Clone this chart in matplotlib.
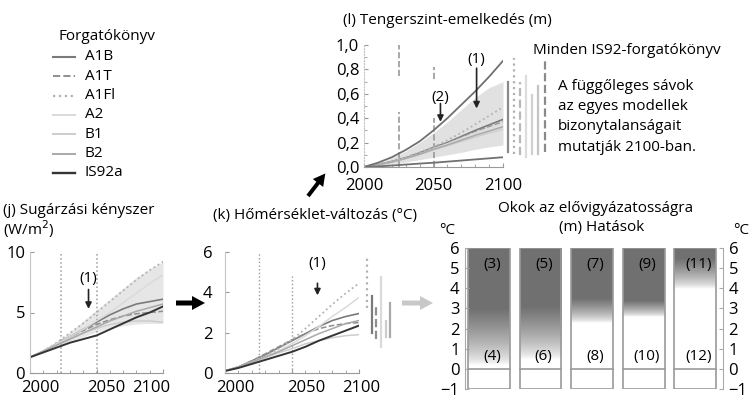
import numpy as np
import matplotlib.pyplot as plt
from matplotlib.patches import FancyArrow, Rectangle
from matplotlib.lines import Line2D
from matplotlib.transforms import ScaledTranslation

plt.rcParams['font.family'] = ['Open Sans', 'DejaVu Sans']

W, H = 755, 401

years = [2000, 2010, 2020, 2030, 2040, 2050, 2060, 2070, 2080, 2090, 2100]

scenarios = ['A1B', 'A1T', 'A1FI', 'A2', 'B1', 'B2', 'IS92a']
legend_names = ['A1B', 'A1T', 'A1Fl', 'A2', 'B1', 'B2', 'IS92a']
line_colors = ['#7a7a7a', '#8e8e8e', '#b2b2b2', '#dadada', '#cdcdcd', '#a9a9a9', '#353535']
line_styles = ['-', '--', ':', '-', '-', '-', '-']
line_widths = [1.2, 1.1, 1.3, 1.1, 1.1, 1.1, 1.4]

# (j) radiative forcing, W/m2
forcing = {
    'A1B':   [1.3, 1.8, 2.4, 3.0, 3.6, 4.2, 4.8, 5.3, 5.7, 5.9, 6.1],
    'A1T':   [1.3, 1.8, 2.4, 3.0, 3.5, 4.0, 4.4, 4.7, 4.9, 5.0, 5.1],
    'A1FI':  [1.3, 1.8, 2.5, 3.3, 4.1, 5.0, 5.9, 6.8, 7.7, 8.5, 9.2],
    'A2':    [1.3, 1.8, 2.4, 3.0, 3.6, 4.3, 5.0, 5.8, 6.6, 7.4, 8.1],
    'B1':    [1.3, 1.8, 2.3, 2.8, 3.3, 3.7, 4.0, 4.2, 4.3, 4.3, 4.2],
    'B2':    [1.3, 1.8, 2.3, 2.8, 3.3, 3.8, 4.3, 4.7, 5.1, 5.4, 5.7],
    'IS92a': [1.3, 1.7, 2.1, 2.5, 2.8, 3.1, 3.6, 4.1, 4.6, 5.0, 5.5],
}
forcing_low = [1.3, 1.75, 2.2, 2.6, 3.0, 3.4, 3.7, 3.9, 4.05, 4.1, 4.1]
forcing_high = [1.3, 1.85, 2.6, 3.4, 4.3, 5.2, 6.1, 7.0, 7.9, 8.6, 9.2]

# (k) global mean temperature change, deg C
temperature = {
    'A1B':   [0.1, 0.3, 0.6, 0.9, 1.25, 1.6, 1.95, 2.3, 2.6, 2.8, 2.95],
    'A1T':   [0.1, 0.3, 0.6, 0.95, 1.3, 1.65, 1.95, 2.2, 2.35, 2.45, 2.5],
    'A1FI':  [0.1, 0.3, 0.55, 0.85, 1.2, 1.65, 2.2, 2.8, 3.4, 3.95, 4.45],
    'A2':    [0.1, 0.3, 0.55, 0.8, 1.1, 1.45, 1.85, 2.3, 2.8, 3.25, 3.75],
    'B1':    [0.1, 0.3, 0.5, 0.75, 1.0, 1.2, 1.45, 1.6, 1.75, 1.85, 1.9],
    'B2':    [0.1, 0.3, 0.55, 0.8, 1.05, 1.35, 1.65, 1.95, 2.2, 2.45, 2.6],
    'IS92a': [0.1, 0.25, 0.45, 0.65, 0.85, 1.05, 1.3, 1.6, 1.85, 2.1, 2.35],
}
temp_bar_scen = ['A1FI', 'A1B', 'A1T', 'A2', 'B1', 'B2']
temp_bar_low = [3.2, 2.0, 1.7, 1.3, 1.8, 1.8]
temp_bar_high = [5.8, 3.8, 3.3, 4.75, 2.6, 3.45]

# (l) sea level rise, m
sea_level = {
    'A1B':  [0, 0.02, 0.045, 0.075, 0.115, 0.16, 0.2, 0.25, 0.3, 0.345, 0.39],
    'A1T':  [0, 0.02, 0.045, 0.075, 0.115, 0.16, 0.2, 0.245, 0.29, 0.33, 0.37],
    'A1FI': [0, 0.02, 0.045, 0.08, 0.12, 0.165, 0.22, 0.28, 0.35, 0.42, 0.49],
    'A2':   [0, 0.02, 0.04, 0.07, 0.105, 0.15, 0.19, 0.235, 0.28, 0.32, 0.36],
    'B1':   [0, 0.02, 0.04, 0.07, 0.1, 0.14, 0.175, 0.21, 0.245, 0.28, 0.31],
    'B2':   [0, 0.02, 0.04, 0.07, 0.105, 0.145, 0.18, 0.22, 0.26, 0.295, 0.33],
}
sea_is92_high = [0, 0.035, 0.08, 0.14, 0.21, 0.30, 0.40, 0.51, 0.62, 0.74, 0.87]
sea_is92_low = [0, 0.005, 0.012, 0.02, 0.028, 0.035, 0.044, 0.053, 0.062, 0.071, 0.08]
sea_band_low = [0, 0.01, 0.025, 0.04, 0.06, 0.08, 0.1, 0.12, 0.145, 0.165, 0.18]
sea_band_high = [0, 0.03, 0.075, 0.13, 0.2, 0.28, 0.37, 0.47, 0.57, 0.65, 0.70]
sea_bar_low = [0.12, 0.11, 0.10, 0.08, 0.11, 0.11, 0.12]
sea_bar_high = [0.70, 0.89, 0.70, 0.75, 0.59, 0.66, 0.89]

# (m) reasons for concern
concern_top = ['(3)', '(5)', '(7)', '(9)', '(11)']
concern_bottom = ['(4)', '(6)', '(8)', '(10)', '(12)']
dark_from = [3.0, 3.1, 3.5, 3.4, 5.5]
white_below = [0.2, 0.5, 2.3, 2.6, 4.0]

fig = plt.figure(figsize=(W / 100, H / 100), dpi=100)


def px_axes(left, top, right, bottom):
    return fig.add_axes([left / W, 1 - bottom / H, (right - left) / W, (bottom - top) / H])


def style_time_axis(ax, label_shift):
    ax.set_xlim(2000, 2100)
    ax.patch.set_visible(False)
    for s in ['top', 'right']:
        ax.spines[s].set_visible(False)
    ax.spines['left'].set_color('#c4c4c4')
    ax.spines['bottom'].set_color('#999999')
    ax.set_xticks([2000, 2050, 2100])
    ax.set_xticks(range(2000, 2101, 10), minor=True)
    ax.tick_params(which='both', direction='in', color='#999999', labelsize=12)
    ax.tick_params(axis='x', pad=5)
    ax.tick_params(which='major', length=3)
    ax.tick_params(which='minor', length=2)
    # year labels sit a little off their ticks
    for tick, dx in zip(ax.xaxis.get_major_ticks(), label_shift):
        lab = tick.label1
        lab.set_transform(lab.get_transform() + ScaledTranslation(dx / 100, 0, fig.dpi_scale_trans))


def draw_scenarios(ax, data):
    for name, col, ls, lw in zip(scenarios, line_colors, line_styles, line_widths):
        if name in data:
            ax.plot(years, data[name], color=col, ls=ls, lw=lw)


def drop_arrow(ax, label, x, y_text, y_from, y_to):
    ax.text(x, y_text, label, ha='center', va='center', fontsize=11)
    ax.annotate('', xy=(x, y_to), xytext=(x, y_from),
                arrowprops=dict(arrowstyle='-|>', color='#222222', lw=1.2,
                                mutation_scale=9, shrinkA=0, shrinkB=0))


# ---- (j) radiative forcing
ax_j = px_axes(30, 252, 163, 373)
style_time_axis(ax_j, [10, 10, -12])
ax_j.set_ylim(0, 10)
ax_j.set_yticks([0, 5, 10])
ax_j.fill_between(years, forcing_low, forcing_high, color='#e6e6e6', lw=0)
for yr in [2023, 2050]:
    ax_j.axvline(yr, color='#9a9a9a', ls=':', lw=1.1)
draw_scenarios(ax_j, forcing)
drop_arrow(ax_j, '(1)', 2044, 7.8, 6.9, 5.3)

# ---- (k) temperature change
ax_k = px_axes(225, 252, 359, 373)
style_time_axis(ax_k, [10, 14, 2])
ax_k.set_ylim(0, 6)
ax_k.set_yticks([0, 2, 4, 6])
ax_k.tick_params(axis='y', pad=9)
ax_k.axvline(2025, color='#999999', ls=':', lw=1.0)
ax_k.axvline(2050, ymax=4.8 / 6, color='#999999', ls=':', lw=1.0)
draw_scenarios(ax_k, temperature)
bar_x = 2106
for name, lo, hi in zip(temp_bar_scen, temp_bar_low, temp_bar_high):
    i = scenarios.index(name)
    ax_k.plot([bar_x, bar_x], [lo, hi], color=line_colors[i], ls=line_styles[i],
              lw=1.6, clip_on=False)
    bar_x += 3.5
drop_arrow(ax_k, '(1)', 2069, 5.45, 4.45, 3.85)

# ---- (l) sea level rise
ax_l = px_axes(364, 45, 503, 167)
style_time_axis(ax_l, [7, 5, 0])
ax_l.set_ylim(0, 1.0)
ax_l.spines['left'].set_linestyle(':')
ax_l.set_yticks(np.arange(0, 1.01, 0.2))
ax_l.set_yticklabels(['0,0', '0,2', '0,4', '0,6', '0,8', '1,0'])
ax_l.set_yticks(np.arange(0, 1.01, 0.1), minor=True)
ax_l.tick_params(axis='x', pad=8)
ax_l.fill_between(years, sea_band_low, sea_band_high, color='#e1e1e1', lw=0)
ax_l.plot([2025, 2025], [0, 0.45], color='#9a9a9a', ls='--', lw=1.2)
ax_l.plot([2025, 2025], [0.75, 1.0], color='#9a9a9a', ls='--', lw=1.2)
ax_l.plot([2050, 2050], [0, 0.40], color='#9a9a9a', ls='--', lw=1.2)
ax_l.plot([2050, 2050], [0.72, 0.82], color='#9a9a9a', ls='--', lw=1.2)
draw_scenarios(ax_l, sea_level)
ax_l.plot(years, sea_is92_high, color='#707070', lw=1.3)
ax_l.plot(years, sea_is92_low, color='#707070', lw=1.3)
bar_styles = [('#8a8a8a', '-'), ('#b0b0b0', ':'), ('#b8b8b8', '--'),
              ('#dcdcdc', '-'), ('#d0d0d0', '-'), ('#c4c4c4', '-'), ('#8a8a8a', '--')]
bar_x = 2103.5
for (col, ls), lo, hi in zip(bar_styles, sea_bar_low, sea_bar_high):
    ax_l.plot([bar_x, bar_x], [lo, hi], color=col, ls=ls, lw=1.6, clip_on=False)
    bar_x += 4.4
drop_arrow(ax_l, '(1)', 2081, 0.88, 0.81, 0.48)
drop_arrow(ax_l, '(2)', 2055, 0.57, 0.52, 0.37)

# ---- (m) impacts
ax_m = px_axes(465, 248, 723, 389)
ax_m.patch.set_visible(False)
for s in ['top', 'bottom']:
    ax_m.spines[s].set_visible(False)
for s in ['left', 'right']:
    ax_m.spines[s].set_color('#aaaaaa')
ax_m.set_xticks([])
ax_m.set_yticks(range(-1, 7))
ax_m.set_yticklabels(['\u22121', '0', '1', '2', '3', '4', '5', '6'])
ax_m.tick_params(axis='y', which='both', direction='in', length=3, color='#aaaaaa',
                 labelsize=12, pad=4, right=True, labelright=True)

dark = np.array([0.44, 0.44, 0.44])
yy = np.linspace(0, 6, 300)
for i in range(5):
    x0 = i + 0.06
    x1 = i + 0.87
    t = np.clip((yy - white_below[i]) / (dark_from[i] - white_below[i]), 0, 1) ** 0.7
    shade = 1 - t[:, None] * (1 - dark)
    img = np.repeat(shade[:, None, :], 2, axis=1)
    ax_m.imshow(img, extent=(x0, x1, 0, 6), origin='lower', aspect='auto',
                interpolation='bilinear', zorder=1)
    ax_m.add_patch(Rectangle((x0, -1), x1 - x0, 7, fill=False, ec='#9a9a9a', lw=1.2, zorder=2))
    ax_m.plot([x0, x1], [0, 0], color='#9a9a9a', lw=1.2, zorder=2)
    xc = (x0 + x1) / 2 + 0.06
    ax_m.text(xc, 5.2, concern_top[i], ha='center', va='center', fontsize=11, zorder=3)
    ax_m.text(xc, 0.6, concern_bottom[i], ha='center', va='center', fontsize=11, zorder=3)
ax_m.set_xlim(0, 5)
ax_m.set_ylim(-1, 6)

# ---- overlay for titles, legend and arrows (pixel coordinates)
ov = fig.add_axes([0, 0, 1, 1])
ov.set_xlim(0, W)
ov.set_ylim(H, 0)
ov.axis('off')

ov.text(3, 210, '(j) Sugárzási kényszer', fontsize=11, va='center')
ov.text(3, 229, '(W/m$^2$)', fontsize=11, va='center')
ov.text(213, 216, '(k) Hőmérséklet-változás (°C)', fontsize=11, va='center')
ov.text(343, 20, '(l) Tengerszint-emelkedés (m)', fontsize=11, va='center')
ov.text(533, 50, 'Minden IS92-forgatókönyv', fontsize=11, va='center')
for k, line in enumerate(['A függőleges sávok', 'az egyes modellek',
                          'bizonytalanságait', 'mutatják 2100-ban.']):
    ov.text(558, 86 + 20.5 * k, line, fontsize=11, va='center')
ov.text(596, 209, 'Okok az elővigyázatosságra', fontsize=11, va='center', ha='center')
ov.text(602, 228, '(m) Hatások', fontsize=11, va='center', ha='center')
ov.text(447, 230, '°C', fontsize=11, va='center', ha='center')
ov.text(741, 230, '°C', fontsize=11, va='center', ha='center')

# legend
ov.text(58, 37, 'Forgatókönyv', fontsize=11, va='center')
for k, (name, col, ls, lw) in enumerate(zip(legend_names, line_colors, line_styles, line_widths)):
    y = 57 + 19.3 * k
    ov.add_line(Line2D([53, 75], [y, y], color=col, ls=ls, lw=lw + 0.3))
    ov.text(85, y, name, fontsize=11, va='center')

# flow arrows between panels
ov.add_patch(FancyArrow(176, 303, 16, 0, width=5, head_width=14, head_length=13,
                        length_includes_head=False, color='black', lw=0))
ov.add_patch(FancyArrow(402, 303, 18, 0, width=5, head_width=14, head_length=13,
                        length_includes_head=False, color='#c8c8c8', lw=0))
ov.add_patch(FancyArrow(308, 196, 10, -13, width=4, head_width=13, head_length=12,
                        length_includes_head=False, color='black', lw=0))

fig.savefig('out.png', dpi=100)
